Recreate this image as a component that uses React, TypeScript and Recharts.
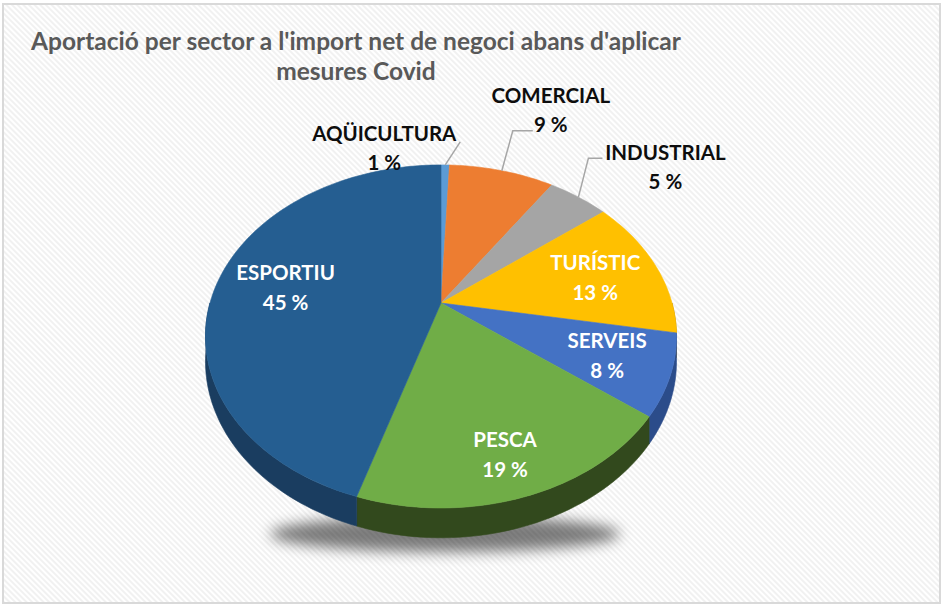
import React from 'react'
import { PieChart, Pie } from 'recharts'

const sectors = ['AQÜICULTURA', 'COMERCIAL', 'INDUSTRIAL', 'TURÍSTIC', 'SERVEIS', 'PESCA', 'ESPORTIU']
const shares = [0.7, 8.7, 5.0, 13.4, 7.6, 19.4, 45.2]
const topColors = ['#5B9BD5', '#ED7D31', '#A5A5A5', '#FFC000', '#4472C4', '#70AD47', '#255E91']
const sideColors = ['#3a6d9c', '#a2541f', '#6f6f6f', '#b08400', '#2b4c8a', '#32491d', '#1a3d60']
const titleLines = ["Aportació per sector a l'import net de negoci abans d'aplicar", 'mesures Covid']

const data = sectors.map((name, i) => ({ name, value: shares[i], fill: topColors[i] }))

const W = 943
const H = 606
const CX = 441
const CY = 303
const R = 231
const TILT = 165 / 231
const PERSP = 0.195
const DEPTH = 24
const RAD = Math.PI / 180
const FONT = 'Lato, "Open Sans", sans-serif'

// recharts angle (deg, ccw from 3 o'clock) -> point on the tilted pie
function project(cx: number, cy: number, r: number, angle: number, f = 1) {
  const t = (90 - angle) * RAD
  const u = Math.sin(t) * f
  const v = Math.cos(t) * f
  const w = 1 + PERSP * v
  return { x: cx + (r * u) / w, y: cy - (r * TILT * v) / w, w }
}

function arc(cx: number, cy: number, r: number, a0: number, a1: number) {
  const n = Math.max(2, Math.ceil(Math.abs(a1 - a0) / 1.5))
  const pts = []
  for (let i = 0; i <= n; i++) pts.push(project(cx, cy, r, a0 + ((a1 - a0) * i) / n))
  return pts
}

const fmt = (p: { x: number; y: number }) => `${p.x.toFixed(2)},${p.y.toFixed(2)}`

function TopFace(props: any) {
  const { cx, cy, outerRadius, startAngle, endAngle, fill } = props
  const pts = arc(cx, cy, outerRadius, startAngle, endAngle)
  const d = `M${cx},${cy} ` + pts.map((p) => 'L' + fmt(p)).join(' ') + ' Z'
  return <path d={d} fill={fill} stroke={fill} strokeWidth={0.6} />
}

function SideWall(props: any) {
  const { cx, cy, outerRadius, startAngle, endAngle, name } = props
  const i = sectors.indexOf(name ?? props.payload?.name)
  const hi = Math.min(Math.max(startAngle, endAngle), 0)
  const lo = Math.max(Math.min(startAngle, endAngle), -180)
  if (hi <= lo) return <g />
  const top = arc(cx, cy, outerRadius, hi, lo)
  const bottom = top.map((p) => ({ x: p.x, y: p.y + DEPTH / p.w })).reverse()
  const d = 'M' + top.map(fmt).join(' L') + ' L' + bottom.map(fmt).join(' L') + ' Z'
  return <path d={d} fill={sideColors[i]} stroke={sideColors[i]} strokeWidth={0.6} />
}

// leader lines + text offsets for the three small slices, relative to the rim point
const callouts: Record<number, { line: number[][]; tx: number; ty: number }> = {
  0: { line: [[15, -23]], tx: -61, ty: -32 },
  1: { line: [[11, -40], [31, -40]], tx: 49, ty: -76 },
  2: { line: [[10, -39], [24, -39]], tx: 87, ty: -45 },
}
// small nudges for inside labels (Excel best-fit placement)
const nudges: Record<number, number[]> = { 3: [-6, 3], 5: [4, 16], 6: [10, 2] }

function renderLabel(props: any) {
  const { cx, cy, outerRadius, midAngle, percent, name } = props
  const i = sectors.indexOf(name)
  const pct = `${Math.round(percent * 100)} %`
  const style = { fontFamily: FONT, fontWeight: 700, fontSize: 20.5 }
  const c = callouts[i]
  if (!c) {
    const p = project(cx, cy, outerRadius, midAngle, 0.74)
    const [nx, ny] = nudges[i] ?? [0, 0]
    const x = p.x + nx
    const y = p.y + ny
    return (
      <g key={name}>
        <text x={x} y={y - 15} textAnchor="middle" dominantBaseline="central" fill="#fff" style={style}>{name}</text>
        <text x={x} y={y + 15} textAnchor="middle" dominantBaseline="central" fill="#fff" style={style}>{pct}</text>
      </g>
    )
  }
  const a = project(cx, cy, outerRadius, midAngle, 1)
  const pts = [a, ...c.line.map(([dx, dy]) => ({ x: a.x + dx, y: a.y + dy }))]
  return (
    <g key={name}>
      <polyline points={pts.map(fmt).join(' ')} fill="none" stroke="#a6a6a6" strokeWidth={1.5} />
      <text x={a.x + c.tx} y={a.y + c.ty} textAnchor="middle" dominantBaseline="central" fill="#0d0d0d" style={style}>{name}</text>
      <text x={a.x + c.tx} y={a.y + c.ty + 29} textAnchor="middle" dominantBaseline="central" fill="#0d0d0d" style={style}>{pct}</text>
    </g>
  )
}

export default function App() {
  return (
    <div style={{ position: 'absolute', left: 0, top: 0, width: W, height: H, background: '#fff' }}>
      <svg width={W} height={H} style={{ position: 'absolute', left: 0, top: 0 }}>
        <defs>
          <pattern id="stripes" width="4" height="4" patternUnits="userSpaceOnUse" patternTransform="rotate(-45)">
            <rect width="4" height="4" fill="#ffffff" />
            <rect width="2" height="4" fill="#f1f1f1" />
          </pattern>
          <filter id="blur" x="-20%" y="-80%" width="140%" height="260%">
            <feGaussianBlur stdDeviation="7" />
          </filter>
        </defs>
        <rect x={3} y={4} width={937} height={599} fill="url(#stripes)" stroke="#d9d9d9" strokeWidth={2} />
        <ellipse cx={445} cy={534} rx={175} ry={18} fill="#000" opacity={0.5} filter="url(#blur)" />
        {titleLines.map((t, i) => (
          <text key={t} x={356} y={40 + i * 30} textAnchor="middle" dominantBaseline="central" fill="#595959"
            style={{ fontFamily: FONT, fontWeight: 700, fontSize: 24.5 }}>{t}</text>
        ))}
      </svg>
      <div style={{ position: 'absolute', left: 0, top: 0 }}>
        <PieChart width={W} height={H} margin={{ top: 0, right: 0, bottom: 0, left: 0 }}>
          <Pie data={data} dataKey="value" nameKey="name" cx={CX} cy={CY} outerRadius={R}
            startAngle={90} endAngle={-270} stroke="none" isAnimationActive={false}
            shape={SideWall} inactiveShape={SideWall} activeShape={SideWall} />
          <Pie data={data} dataKey="value" nameKey="name" cx={CX} cy={CY} outerRadius={R}
            startAngle={90} endAngle={-270} stroke="none" isAnimationActive={false}
            shape={TopFace} inactiveShape={TopFace} activeShape={TopFace}
            label={renderLabel} labelLine={false} />
        </PieChart>
      </div>
    </div>
  )
}
